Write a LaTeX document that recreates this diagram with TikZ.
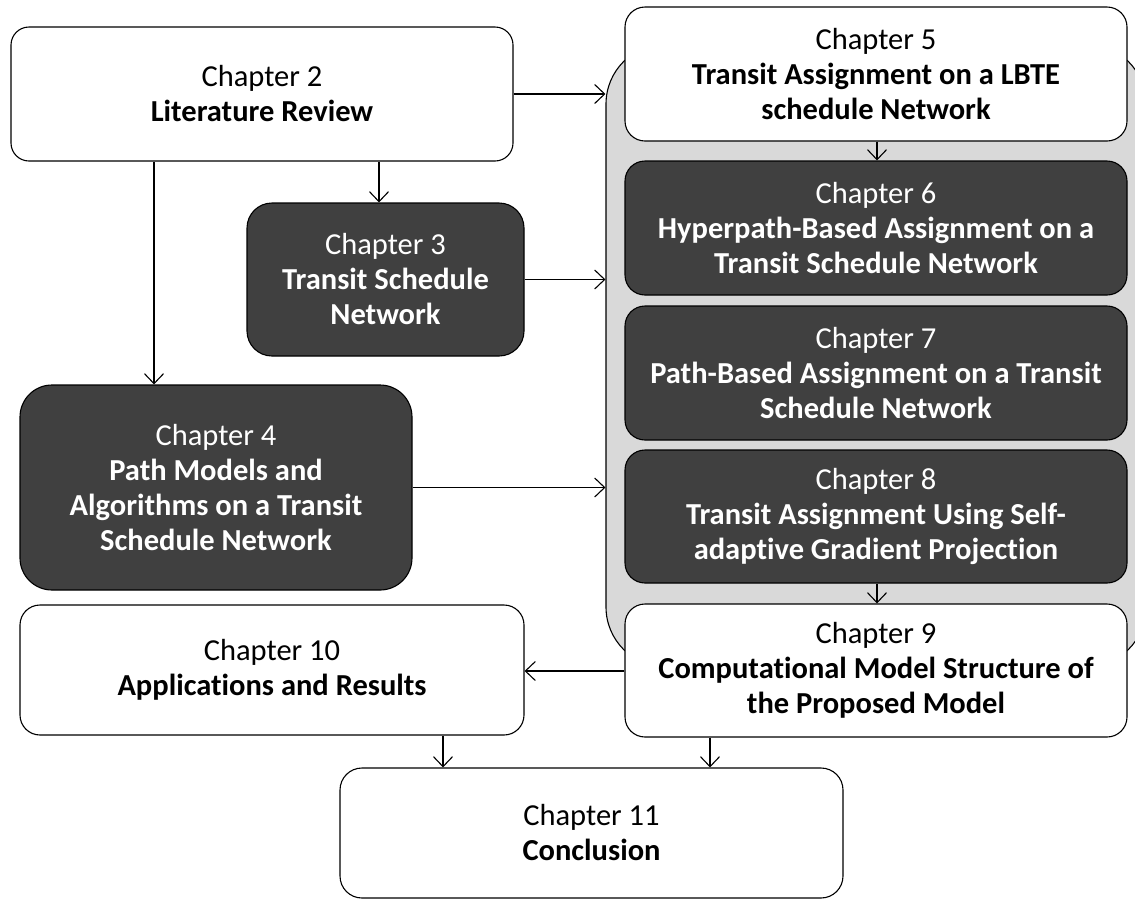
\documentclass[tikz,border=0pt]{standalone}
\usepackage{fontspec}
\setmainfont{Carlito}[Ligatures={NoCommon}]
\usetikzlibrary{arrows.meta}
\definecolor{darkbox}{HTML}{404040}
\definecolor{panelgray}{HTML}{D9D9D9}
\begin{document}
\begin{tikzpicture}[x=1pt,y=-1pt,
  every node/.style={font=\fontsize{30.5}{35}\selectfont, align=center, inner sep=0pt},
  chbox/.style={draw=black, line width=1.1pt, rounded corners=#1, minimum width=502pt, minimum height=134pt},
  chbox/.default=20pt,
  light/.style={fill=white, text=black},
  dark/.style={fill=darkbox, text=white},
  link/.style={draw=black, line width=1.1pt, -{Straight Barb[length=10pt,width=19pt,line width=1.1pt]}}]
\useasboundingbox (0,0) rectangle (1135,898);

% shaded panel behind chapters 5--9
\node[draw=black, line width=1.1pt, fill=panelgray, rounded corners=60pt,
  minimum width=540pt, minimum height=623pt] (panel) at (876,355.5) {};

% chapter boxes
\node[chbox=18pt, light] (ch2) at (262,94) {Chapter 2\\\textbf{Literature Review}};
\node[chbox=25pt, dark, minimum width=277pt, minimum height=153pt] (ch3) at (385.5,279.5)
  {Chapter 3\\\textbf{Transit Schedule}\\\textbf{Network}};
\node[chbox=32pt, dark, minimum width=392pt, minimum height=205pt] (ch4) at (216,487.5)
  {Chapter 4\\\textbf{Path Models and}\\\textbf{Algorithms on a Transit}\\\textbf{Schedule Network}};
\node[chbox, light] (ch5) at (876,74)
  {Chapter 5\\\textbf{Transit Assignment on a LBTE}\\\textbf{schedule Network}};
\node[chbox, dark] (ch6) at (876,228)
  {Chapter 6\\\textbf{Hyperpath-Based Assignment on a}\\\textbf{Transit Schedule Network}};
\node[chbox, dark] (ch7) at (876,373)
  {Chapter 7\\\textbf{Path-Based Assignment on a Transit}\\\textbf{Schedule Network}};
\node[chbox, dark, minimum height=133pt] (ch8) at (876,516.5)
  {Chapter 8\\\textbf{Transit Assignment Using Self-}\\\textbf{adaptive Gradient Projection}};
\node[chbox, light, minimum height=133pt] (ch9) at (876,670.5)
  {Chapter 9\\\textbf{Computational Model Structure of}\\\textbf{the Proposed Model}};
\node[chbox, light, minimum width=504pt, minimum height=130pt] (ch10) at (272,670)
  {Chapter 10\\\textbf{Applications and Results}};
\node[chbox=22pt, light, minimum width=503pt, minimum height=130pt] (ch11) at (591.5,833)
  {Chapter 11\\\textbf{Conclusion}};

% connector anchor columns
\coordinate (c154) at (154,0);
\coordinate (c379) at (379,0);
\coordinate (c877) at (877,0);
\coordinate (c443) at (443,0);
\coordinate (c710) at (710,0);
\coordinate (r671) at (0,671);

% connectors
\draw[link] (ch2.east) -- (ch2.east -| panel.west);
\draw[link] (ch3.east) -- (ch3.east -| panel.west);
\draw[link] (ch4.east) -- (ch4.east -| panel.west);
\draw[link] (ch2.south -| c379) -- (ch3.north -| c379);
\draw[link] (ch2.south -| c154) -- (ch4.north -| c154);
\draw[link] (ch5.south -| c877) -- (ch6.north -| c877);
\draw[link] (ch8.south -| c877) -- (ch9.north -| c877);
\draw[link] (ch9.west |- r671) -- (ch10.east |- r671);
\draw[link] (ch10.south -| c443) -- (ch11.north -| c443);
\draw[link] (ch9.south -| c710) -- (ch11.north -| c710);
\end{tikzpicture}
\end{document}
